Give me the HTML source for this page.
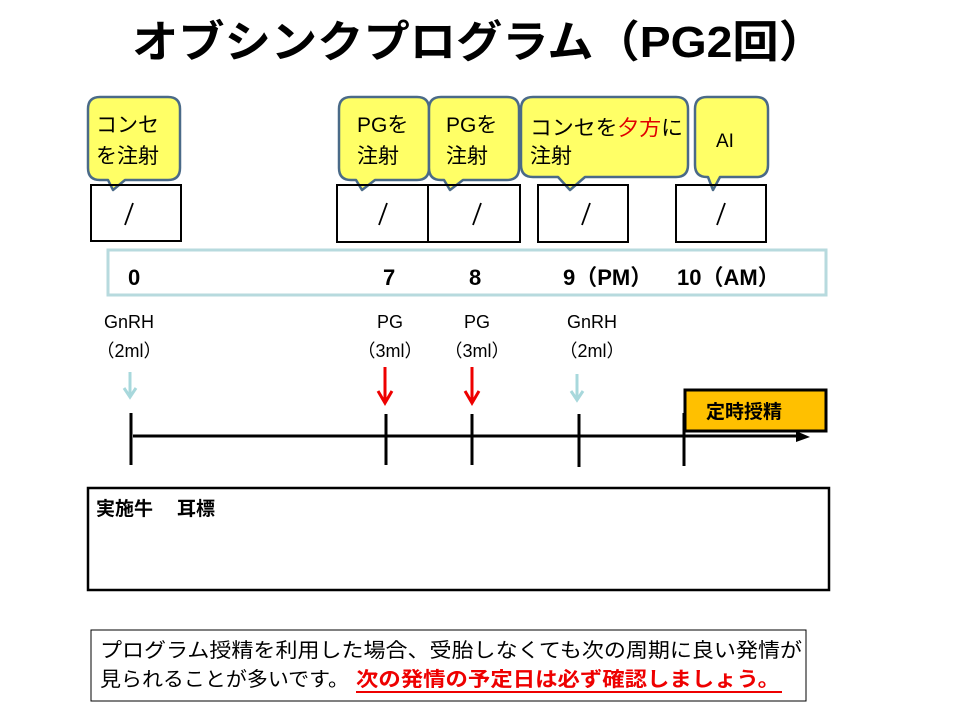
<!DOCTYPE html>
<html><head><meta charset="utf-8"><style>
html,body{margin:0;padding:0;background:#fff;}
svg{display:block;}
text{font-family:"Liberation Sans","Noto Sans CJK JP",sans-serif;}
</style></head><body>
<svg width="960" height="720" viewBox="0 0 960 720" xmlns="http://www.w3.org/2000/svg">
<text x="132" y="57" font-size="44" font-weight="bold" textLength="693" lengthAdjust="spacingAndGlyphs">オブシンクプログラム（PG2回）</text>

<g fill="#ffff66" stroke="#4a6a88" stroke-width="2.5" stroke-linejoin="round">
<path d="M100,97 H168 Q180,97 180,109 V168 Q180,180 168,180 H125 L113,190 L108,180 H100 Q88,180 88,168 V109 Q88,97 100,97 Z"/>
<path d="M351,97 H417 Q429,97 429,109 V168 Q429,180 417,180 H375 L362,190 L356,180 H351 Q339,180 339,168 V109 Q339,97 351,97 Z"/>
<path d="M441,97 H507 Q519,97 519,109 V168 Q519,180 507,180 H463 L450,190 L444,180 H441 Q429,180 429,168 V109 Q429,97 441,97 Z"/>
<path d="M533,97 H676 Q688,97 688,109 V165 Q688,177 676,177 H585 L570,190 L558,177 H533 Q521,177 521,165 V109 Q521,97 533,97 Z"/>
<path d="M707,97 H756 Q768,97 768,109 V165 Q768,177 756,177 H720 L713,190 L708,177 H707 Q695,177 695,165 V109 Q695,97 707,97 Z"/>
</g>
<g font-size="21">
<text x="96" y="132">コンセ</text>
<text x="96" y="163">を注射</text>
<text x="357" y="132">PGを</text>
<text x="357" y="163">注射</text>
<text x="446" y="132">PGを</text>
<text x="446" y="163">注射</text>
<text x="530" y="135" textLength="153" lengthAdjust="spacingAndGlyphs">コンセを<tspan fill="#e00000">夕方</tspan>に</text>
<text x="530" y="163">注射</text>
<text x="716" y="147" font-size="19">AI</text>
</g>

<g fill="none" stroke="#000" stroke-width="2">
<rect x="91" y="185" width="90" height="56"/>
<rect x="337" y="185" width="91" height="57"/>
<rect x="428" y="185" width="92" height="57"/>
<rect x="538" y="185" width="90" height="57"/>
<rect x="676" y="185" width="90" height="57"/>
</g>
<g stroke="#000" stroke-width="1.8">
<line x1="133" y1="203" x2="125" y2="225"/>
<line x1="387" y1="203" x2="379" y2="225"/>
<line x1="481" y1="203" x2="473" y2="225"/>
<line x1="590" y1="203" x2="582" y2="225"/>
<line x1="725" y1="203" x2="717" y2="225"/>
</g>

<rect x="108" y="250" width="718" height="45" fill="none" stroke="#b7dade" stroke-width="3"/>
<g font-size="22" font-weight="bold">
<text x="128" y="285">0</text>
<text x="383" y="285">7</text>
<text x="469" y="285">8</text>
<text x="563" y="285">9（PM）</text>
<text x="677" y="285">10（AM）</text>
</g>

<g font-size="18" text-anchor="middle">
<text x="129" y="328">GnRH</text>
<text x="129" y="357">（2ml）</text>
<text x="390" y="328">PG</text>
<text x="390" y="357">（3ml）</text>
<text x="477" y="328">PG</text>
<text x="477" y="357">（3ml）</text>
<text x="592" y="328">GnRH</text>
<text x="592" y="357">（2ml）</text>
</g>

<g stroke="#a8d8dc" stroke-width="3" fill="none">
<line x1="130" y1="372" x2="130" y2="397"/><polyline points="124,388 130,397 136,388"/>
<line x1="577" y1="374" x2="577" y2="400"/><polyline points="571,391 577,400 583,391"/>
</g>
<g stroke="#ee0000" stroke-width="3" fill="none">
<line x1="385" y1="367" x2="385" y2="402"/><polyline points="378,391 385,403 392,391"/>
<line x1="472" y1="367" x2="472" y2="402"/><polyline points="465,391 472,403 479,391"/>
</g>

<g stroke="#000" stroke-width="3">
<line x1="133" y1="436" x2="800" y2="436"/>
<line x1="131" y1="413" x2="131" y2="465"/>
<line x1="386" y1="414" x2="386" y2="465"/>
<line x1="472" y1="414" x2="472" y2="465"/>
<line x1="579" y1="414" x2="579" y2="467"/>
<line x1="684" y1="413" x2="684" y2="466"/>
</g>
<polygon points="796,431 810,437 796,442" fill="#000"/>

<rect x="685" y="390" width="141" height="41" fill="#ffc000" stroke="#000" stroke-width="3"/>
<text x="706" y="418" font-size="19" font-weight="bold">定時授精</text>

<rect x="88" y="488" width="741" height="102" fill="none" stroke="#000" stroke-width="2.5"/>
<text x="96" y="515" font-size="19" font-weight="bold">実施牛</text>
<text x="177" y="515" font-size="19" font-weight="bold">耳標</text>

<rect x="91" y="630" width="715" height="71" fill="none" stroke="#000" stroke-width="1"/>
<text x="100" y="657" font-size="20" textLength="702" lengthAdjust="spacingAndGlyphs">プログラム授精を利用した場合、受胎しなくても次の周期に良い発情が</text>
<text x="100" y="686" font-size="20" textLength="249" lengthAdjust="spacingAndGlyphs">見られることが多いです。</text>
<text x="356" y="686" font-size="20" font-weight="bold" fill="#ee0000" textLength="424" lengthAdjust="spacingAndGlyphs">次の発情の予定日は必ず確認しましょう。</text>
<line x1="356" y1="692" x2="782" y2="692" stroke="#ee0000" stroke-width="2"/>
</svg>
</body></html>
